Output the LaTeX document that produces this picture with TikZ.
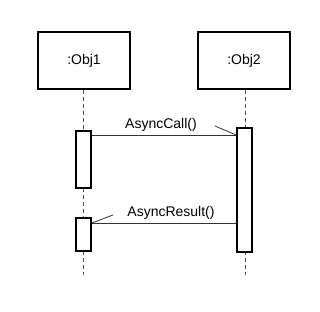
\documentclass[tikz,border=0pt]{standalone}
\usepackage{fontspec}
\setmainfont{Liberation Sans}
\begin{document}
\begin{tikzpicture}[x=1pt,y=-1pt,
  objbox/.style={draw=black,line width=1.6pt,fill=white,minimum width=92pt,minimum height=57pt,inner sep=0pt,font=\fontsize{14}{16}\selectfont},
  actbox/.style={draw=black,line width=1.6pt,fill=white,minimum width=15pt,inner sep=0pt},
  lifeline/.style={dashed,dash pattern=on 4pt off 3pt,line width=0.8pt,black!70},
  msg/.style={line width=0.8pt,black!80},
  lbl/.style={font=\fontsize{14}{16}\selectfont,inner sep=0pt}]
\useasboundingbox (0,0) rectangle (320,312);
\node[objbox] (o1) at (84,60.5) {:Obj1};
\node[objbox] (o2) at (244,60.5) {:Obj2};
\coordinate (e1) at (83,275);
\coordinate (e2) at (245,275);
\draw[lifeline] (o1.south -| e1) -- (e1);
\draw[lifeline] (o2.south -| e2) -- (e2);
\node[actbox,minimum height=57pt] (a1) at (83.5,159.5) {};
\node[actbox,minimum height=124pt] (b1) at (244.5,190) {};
\node[actbox,minimum height=33pt] (a2) at (83.5,234.5) {};
% AsyncCall
\coordinate (c1) at (91,135);
\draw[msg] (a1.east |- c1) -- (b1.west |- c1);
\coordinate (h1) at (215,126);
\draw[msg] (h1) -- (b1.west |- c1);
\node[lbl] (l1) at (161,125) {AsyncCall()};
% AsyncResult
\coordinate (c2) at (91,223);
\draw[msg] (b1.west |- c2) -- (a2.east |- c2);
\coordinate (h2) at (113,215);
\draw[msg] (h2) -- (a2.east |- c2);
\node[lbl] (l2) at (171,213) {AsyncResult()};
\end{tikzpicture}
\end{document}
